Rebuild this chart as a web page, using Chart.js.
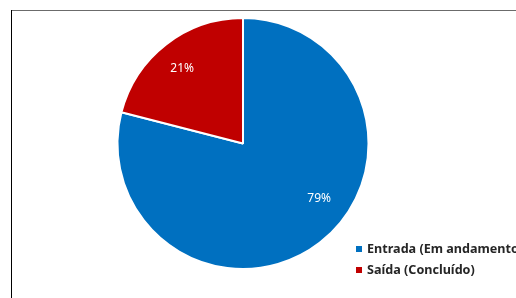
<!DOCTYPE html>
<html>
<head>
<meta charset="utf-8">
<script src="https://cdn.jsdelivr.net/npm/chart.js@4.4.1/dist/chart.umd.min.js"></script>
<style>
  html, body { margin: 0; padding: 0; background: #fff; }
  #wrap { position: relative; width: 516px; height: 298px; overflow: hidden; }
</style>
</head>
<body>
<div id="wrap"><canvas id="pieChart" width="516" height="298"></canvas></div>
<script>
// --- data ---
const labels = ['Entrada (Em andamento)', 'Saída (Concluído)'];
const values = [79, 21];
const colors = ['#0070C0', '#C00000'];

// frame lines (top + left edge of the sheet box)
const framePlugin = {
    id: 'frame',
    beforeDraw(chart) {
        const ctx = chart.ctx;
        ctx.save();
        ctx.lineWidth = 1;
        ctx.strokeStyle = '#6b6b6b';
        ctx.beginPath();
        ctx.moveTo(11, 10.5);
        ctx.lineTo(516, 10.5);
        ctx.stroke();
        ctx.strokeStyle = '#000';
        ctx.beginPath();
        ctx.moveTo(11.5, 10);
        ctx.lineTo(11.5, 298);
        ctx.stroke();
        ctx.restore();
    }
};

// percent labels inside slices (Excel "best fit" spots, given as angle/radius fraction)
const sliceLabelPlugin = {
    id: 'sliceLabels',
    afterDatasetsDraw(chart, args, opts) {
        const ctx = chart.ctx;
        const meta = chart.getDatasetMeta(0);
        const total = values.reduce((a, b) => a + b, 0);
        ctx.save();
        ctx.font = '12px "Noto Sans", sans-serif';
        ctx.fillStyle = '#fff';
        ctx.textAlign = 'center';
        ctx.textBaseline = 'middle';
        meta.data.forEach((arc, i) => {
            const spot = opts.spots[i];
            const ang = spot.angle * Math.PI / 180;
            const r = arc.outerRadius * spot.r;
            const pct = Math.round(values[i] / total * 100) + '%';
            ctx.fillText(pct, arc.x + Math.cos(ang) * r, arc.y + Math.sin(ang) * r);
        });
        ctx.restore();
    }
};

// legend in the lower right, clipped by the canvas edge like the original
const legendPlugin = {
    id: 'sideLegend',
    afterDraw(chart) {
        const ctx = chart.ctx;
        ctx.save();
        ctx.font = 'bold 12.6px "Noto Sans", sans-serif';
        ctx.textBaseline = 'middle';
        labels.forEach((lab, i) => {
            const y = 249 + i * 21;
            ctx.fillStyle = colors[i];
            ctx.fillRect(356, y - 3, 6, 6);
            ctx.fillStyle = '#262626';
            ctx.fillText(lab, 367, y + 0.5);
        });
        ctx.restore();
    }
};

new Chart(document.getElementById('pieChart'), {
    type: 'pie',
    data: {
        labels: labels,
        datasets: [{
            data: values,
            backgroundColor: colors,
            borderColor: '#fff',
            borderWidth: 2
        }]
    },
    options: {
        responsive: false,
        animation: false,
        layout: { padding: { left: 116, right: 146, top: 17, bottom: 28 } },
        plugins: {
            legend: { display: false },
            tooltip: { enabled: false },
            sliceLabels: {
                spots: [
                    { angle: 36, r: 0.75 },
                    { angle: -129, r: 0.77 }
                ]
            }
        }
    },
    plugins: [framePlugin, sliceLabelPlugin, legendPlugin]
});
</script>
</body>
</html>
